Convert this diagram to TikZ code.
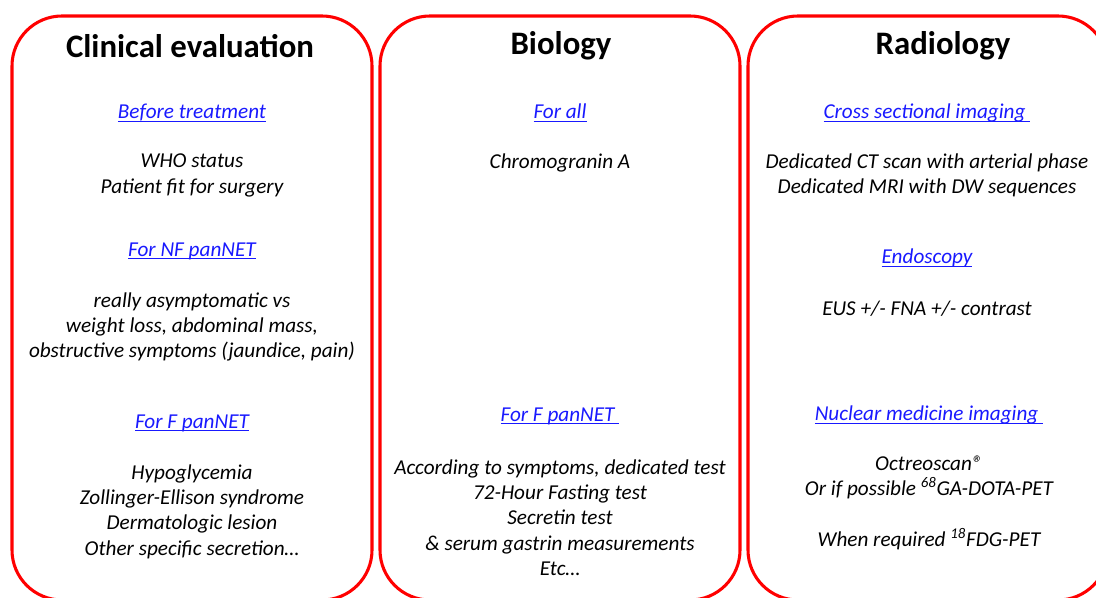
\documentclass[tikz,border=0pt]{standalone}
\usepackage{fontspec}
\setmainfont{Carlito}
\usetikzlibrary{positioning}
\definecolor{boxred}{RGB}{255,0,0}
\definecolor{linkblue}{RGB}{25,25,255}
\tikzset{
  evalpic/.style={
    x=0.75pt,y=-0.75pt
    ,inner sep=0pt
    ,outer sep=0pt
  }
  ,column/.style={draw=boxred,line width=2.3pt,rounded corners=37.5pt}
  ,coltitle/.style={font=\fontsize{24.6}{29}\selectfont\bfseries}
  ,linkhead/.style={font=\fontsize{15.9}{19}\selectfont\itshape,text=linkblue}
  ,entry/.style={font=\fontsize{15.9}{19}\selectfont\itshape,align=center}
}
\newcommand\linktext[1]{\setbox0\hbox{#1}\rlap{\rule[-2.4pt]{\wd0}{0.75pt}}\box0}

\begin{document}
\begin{tikzpicture}[evalpic]
    \useasboundingbox (0,0) rectangle (1096,598);
    \clip (0,0) rectangle (1096,598);
    % three columns
    \draw[column] (12,16) rectangle (372,600);
    \draw[column] (380,16) rectangle (740,600);
    \draw[column] (748,16) rectangle (1108,600);
    % clinical evaluation
    \node[coltitle] (clinhead) at (190,46) {Clinical evaluation};
    \node[linkhead] (clinbefore) at (192,113) {\linktext{Before treatment}};
    \node[entry] (clinwho) at (192,175.5) {WHO status\\Patient fit for surgery};
    \node[linkhead] (clinnf) at (192,251) {\linktext{For NF panNET}};
    \node[entry] (clinnfsym) at (192,327) {really asymptomatic vs\\weight loss, abdominal mass,\\obstructive symptoms (jaundice, pain)};
    \node[linkhead] (clinf) at (192,423) {\linktext{For F panNET}};
    \node[entry] (clinfsym) at (192,511.5) {Hypoglycemia\\Zollinger-Ellison syndrome\\Dermatologic lesion\\Other specific secretion…};
    % biology
    \node[coltitle] (biohead) at (561,46) {Biology};
    \node[linkhead] (bioall) at (560,113) {\linktext{For all}};
    \node[entry] (biocga) at (560,163) {Chromogranin A};
    \node[linkhead] (biof) at (560,416) {\linktext{For F panNET\ }};
    \node[entry] (biotests) at (560,517.5) {According to symptoms, dedicated test\\72-Hour Fasting test\\Secretin test\\\& serum gastrin measurements\\Etc…};
    % radiology
    \node[coltitle] (radhead) at (943,46) {Radiology};
    \node[linkhead] (radcross) at (927,113) {\linktext{Cross sectional imaging\ }};
    \node[entry] (radct) at (927,175.5) {Dedicated CT scan with arterial phase\\Dedicated MRI with DW sequences};
    \node[linkhead] (radendo) at (927,258) {\linktext{Endoscopy}};
    \node[entry] (radeus) at (927,309) {EUS +/- FNA +/- contrast};
    \node[linkhead] (radnuc) at (929,415) {\linktext{Nuclear medicine imaging\ }};
    \node[entry] (radoct) at (929,503) {Octreoscan®\\Or if possible \textsuperscript{68}GA-DOTA-PET\\[19pt]When required \textsuperscript{18}FDG-PET};
\end{tikzpicture}
\end{document}
